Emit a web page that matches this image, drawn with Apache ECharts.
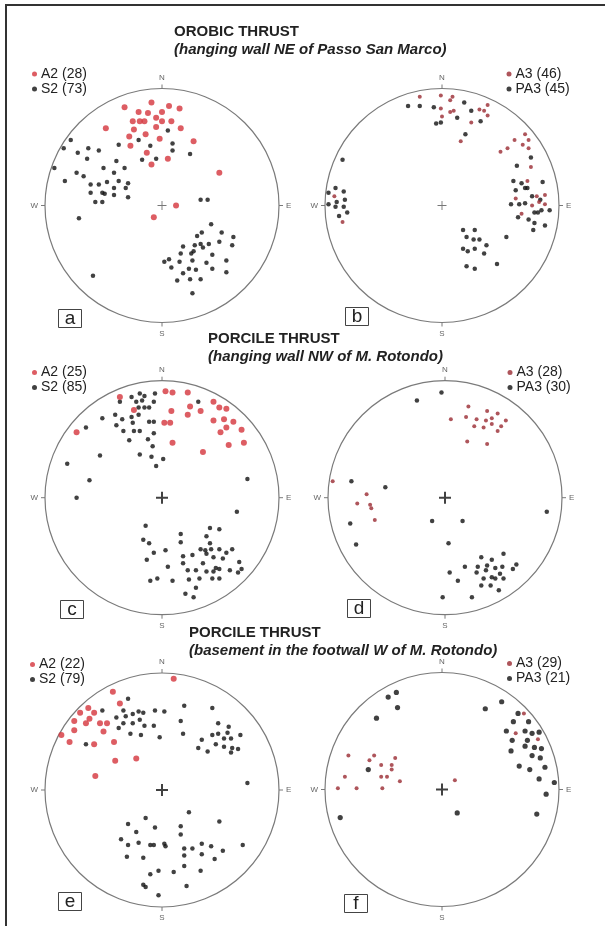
<!DOCTYPE html>
<html>
<head>
<meta charset="utf-8">
<script src="https://cdn.jsdelivr.net/npm/echarts@6/dist/echarts.min.js"></script>
<style>
  html, body { margin: 0; padding: 0; background: #fff; }
  #chart { width: 605px; height: 926px; }
</style>
</head>
<body>
<div id="chart"></div>
<script>
// Pole data on equal-area nets: [east, north] in percent of the net radius.

// Orobic thrust, hanging wall NE of Passo San Marco
const a_A2 = [[-32,84],[-9,88],[6,85],[15,83],[-20,80],[-12,79],[-5,75],[0,80],[-25,72],[-19,72],[-15,72],[0,72],[8,72],[-5,67],[16,66],[-48,66],[-24,65],[-14,61],[-28,59],[-2,57],[-27,51],[27,55],[-13,45],[5,40],[-9,35],[49,28],[12,0],[-7,-10]];
const a_S2 = [[-78,56],[-84,49],[-72,45],[-63,49],[-54,47],[-37,52],[-64,40],[-39,38],[-92,32],[-73,28],[-67,25],[-50,32],[-41,28],[-32,32],[-83,21],[-61,18],[-54,18],[-47,20],[-37,21],[-29,19],[-41,15],[-31,15],[-61,11],[-51,11],[-49,10],[-41,9],[-29,7],[-57,3],[-51,3],[-71,-11],[-59,-60],
  [5,64],[-20,56],[9,53],[-10,51],[9,47],[24,44],[-17,39],[-5,40],
  [33,5],[39,5],
  [42,-16],[34,-23],[51,-23],[30,-26],[61,-27],[18,-35],[28,-34],[33,-33],[35,-36],[40,-33],[49,-31],[60,-34],[25,-41],[27,-39],[16,-41],[43,-42],[2,-48],[6,-46],[15,-48],[26,-47],[38,-49],[55,-47],[8,-53],[23,-54],[29,-55],[43,-54],[55,-57],[18,-58],[13,-64],[24,-63],[33,-63],[26,-75]];
const b_A3 = [[-19,93],[-1,94],[9,93],[7,90],[-1,83],[0,76],[7,80],[10,81],[32,82],[36,81],[39,86],[39,77],[25,71],[16,55],
  [71,61],[62,56],[74,56],[69,52],[74,49],[56,49],[50,46],[76,33],[73,21],[63,6],[81,8],[88,9],[77,0],[88,1],[68,-7],[83,3],
  [-92,8],[-85,-14]];
const b_PA3 = [[-29,85],[-19,85],[-7,84],[19,88],[13,75],[25,81],[-5,70],[-1,71],[33,72],[20,61],
  [76,41],[64,34],[61,21],[68,19],[71,15],[73,15],[86,20],[63,13],[77,8],[59,1],[66,1],[71,2],[84,5],[79,-6],[82,-6],[85,-4],[92,-4],[65,-10],[74,-12],[79,-15],[78,-21],[88,-17],[55,-27],
  [18,-21],[28,-21],[21,-27],[27,-29],[32,-29],[18,-37],[22,-39],[28,-37],[38,-34],[36,-41],[21,-52],[28,-54],[47,-50],
  [-85,39],[-91,15],[-97,11],[-84,12],[-90,3],[-83,5],[-97,1],[-91,-1],[-84,-1],[-81,-6],[-88,-9]];

// Porcile thrust, hanging wall NW of M. Rotondo
const c_A2 = [[-36,86],[3,91],[9,90],[22,90],[-24,75],[8,74],[24,78],[33,74],[44,82],[49,77],[55,76],[22,71],[2,64],[7,64],[44,66],[53,67],[61,65],[55,60],[50,56],[68,58],[-73,56],[9,47],[35,39],[57,45],[70,47]];
const c_S2 = [[-36,82],[-26,86],[-19,89],[-15,87],[-6,89],[-22,82],[-17,83],[-7,82],[-20,77],[-15,77],[-11,77],[-40,71],[-51,68],[-65,60],[-34,67],[-26,69],[-20,71],[-11,65],[-7,65],[-39,62],[-25,64],[-33,57],[-24,57],[-19,57],[-7,55],[-28,49],[-12,50],[-8,44],[-19,37],[-9,35],[1,33],[-5,27],[31,82],[-53,36],[-81,29],[-62,15],[-73,0],[73,16],[64,-12],
  [-14,-24],[16,-31],[41,-26],[49,-27],[38,-33],[-16,-36],[-11,-39],[16,-38],[41,-39],[33,-44],[37,-45],[38,-48],[42,-44],[49,-44],[55,-47],[60,-44],[-7,-47],[3,-45],[18,-50],[26,-49],[44,-51],[52,-52],[-13,-53],[66,-55],[18,-56],[35,-56],[46,-60],[49,-61],[5,-59],[22,-62],[29,-62],[38,-63],[44,-63],[58,-62],[65,-64],[68,-61],[-10,-71],[-4,-69],[9,-71],[23,-70],[32,-69],[43,-69],[49,-69],[29,-77],[20,-82],[27,-85]];
const d_A3 = [[20,78],[36,74],[45,72],[5,67],[18,69],[27,67],[35,66],[40,68],[52,66],[25,61],[33,60],[40,63],[48,61],[45,57],[19,48],[36,46],
  [-96,14],[-67,3],[-75,-5],[-64,-6],[-63,-9],[-60,-19]];
const d_PA3 = [[-3,90],[-24,83],[-80,14],[-51,9],[-81,-22],[-76,-40],[-11,-20],[15,-20],[87,-12],[3,-39],
  [31,-51],[40,-53],[50,-48],[28,-59],[36,-58],[43,-60],[49,-59],[61,-57],[58,-61],[17,-59],[27,-64],[35,-62],[40,-68],[33,-69],[43,-69],[47,-65],[50,-69],[4,-64],[11,-71],[31,-75],[39,-75],[46,-79],[-2,-85],[23,-85]];

// Porcile thrust, basement in the footwall W of M. Rotondo
const e_A2 = [[10,95],[-42,84],[-36,74],[-70,66],[-63,70],[-58,66],[-75,59],[-65,57],[-62,61],[-53,57],[-47,57],[-75,51],[-50,50],[-86,47],[-79,41],[-58,39],[-41,41],[-40,25],[-22,27],[-57,12]];
const e_S2 = [[-29,78],[-51,68],[-33,68],[-25,65],[-20,67],[-16,66],[-6,68],[2,67],[19,72],[-39,62],[-31,63],[-37,53],[-33,57],[-25,57],[-19,60],[-15,55],[-7,55],[-27,48],[-18,47],[-2,45],[16,59],[18,48],[-65,39],
  [43,70],[48,57],[57,54],[43,47],[48,48],[53,44],[56,49],[59,44],[67,47],[34,43],[31,36],[39,33],[46,39],[53,37],[60,36],[65,35],[59,32],
  [73,6],
  [-14,-24],[23,-19],[-29,-29],[-6,-32],[16,-31],[49,-27],[-22,-36],[16,-38],[-35,-42],[-29,-47],[-20,-45],[-10,-47],[-7,-47],[2,-46],[3,-48],[19,-50],[26,-50],[34,-46],[42,-48],[52,-52],[69,-47],[-30,-57],[-16,-58],[19,-56],[34,-55],[45,-59],[19,-65],[-3,-69],[-10,-72],[10,-70],[33,-69],[-16,-81],[-14,-83],[21,-82],[-3,-90]];
const f_A3 = [[-80,29],[-58,29],[-62,25],[-52,21],[-40,27],[-43,21],[-43,17],[-83,11],[-52,11],[-47,11],[-36,7],[-89,1],[-73,1],[-51,1],[11,8],[70,65],[63,48],[82,43]];
const f_PA3 = [[-46,79],[-39,83],[-38,70],[-56,61],[37,69],[51,75],[65,65],[74,58],[61,58],[55,50],[71,50],[77,48],[83,49],[60,42],[73,42],[71,37],[79,36],[85,35],[59,33],[77,29],[84,27],[66,20],[75,17],[88,19],[83,9],[96,6],[89,-4],[81,-21],[13,-20],[-87,-24],[-63,17]];

// Compass labels on the primitive circle
const compass = { 0: 'N', 90: 'E', 180: 'S', 270: 'W' };

const RED_A2 = '#d5353c';
const RED_A3 = '#9a2a32';
const BLACK = '#111111';

const nets = [
  { center: [162, 205.5], bold: false, letter: 'a', box: [58, 309],
    legend: { left: 32, top: 66.5 },
    sets: [ ['S2 (73)', a_S2, BLACK, 4.5], ['A2 (28)', a_A2, RED_A2, 6] ], order: ['A2 (28)', 'S2 (73)'] },
  { center: [442, 205.5], bold: false, letter: 'b', box: [345, 307],
    legend: { left: 506.5, top: 66.5 },
    sets: [ ['PA3 (45)', b_PA3, BLACK, 4.5], ['A3 (46)', b_A3, RED_A3, 4] ], order: ['A3 (46)', 'PA3 (45)'] },
  { center: [162, 497.7], bold: true, letter: 'c', box: [60, 600],
    legend: { left: 32, top: 365 },
    sets: [ ['S2 (85)', c_S2, BLACK, 4.5], ['A2 (25)', c_A2, RED_A2, 6] ], order: ['A2 (25)', 'S2 (85)'] },
  { center: [445, 497.7], bold: true, letter: 'd', box: [347, 599],
    legend: { left: 507.5, top: 365 },
    sets: [ ['PA3 (30)', d_PA3, BLACK, 4.5], ['A3 (28)', d_A3, RED_A3, 4] ], order: ['A3 (28)', 'PA3 (30)'] },
  { center: [162, 790], bold: true, letter: 'e', box: [58, 892],
    legend: { left: 30, top: 657 },
    sets: [ ['S2 (79)', e_S2, BLACK, 4.5], ['A2 (22)', e_A2, RED_A2, 6] ], order: ['A2 (22)', 'S2 (79)'] },
  { center: [442, 789.5], bold: true, letter: 'f', box: [344, 894],
    legend: { left: 507, top: 656 },
    sets: [ ['PA3 (21)', f_PA3, BLACK, 5.2], ['A3 (29)', f_A3, RED_A3, 4] ], order: ['A3 (29)', 'PA3 (21)'] }
];

const NET_RADIUS = 117;

// [east, north] -> [radius, azimuth] for the polar system
function toPolar(pts) {
  return pts.map(([e, n]) => {
    const r = Math.hypot(e, n);
    let az = Math.atan2(e, n) * 180 / Math.PI;
    if (az < 0) az += 360;
    return [r, az];
  });
}

const thinCross = 'path://M-0.5,-5L0.5,-5L0.5,5L-0.5,5Z M-5,-0.5L5,-0.5L5,0.5L-5,0.5Z';
const boldCross = 'path://M-1,-6L1,-6L1,6L-1,6Z M-6,-1L6,-1L6,1L-6,1Z';

const polar = [], angleAxis = [], radiusAxis = [], series = [], legend = [];
const graphic = [];

nets.forEach((net, i) => {
  polar.push({ center: net.center, radius: NET_RADIUS });
  angleAxis.push({
    polarIndex: i, type: 'value', min: 0, max: 360, interval: 90,
    startAngle: 90, clockwise: true,
    axisLine: { lineStyle: { color: '#7a7a7a', width: 1.2 } },
    axisTick: { show: true, length: 4, lineStyle: { color: '#7a7a7a', width: 1 } },
    axisLabel: { margin: 7, fontSize: 8, color: '#666', fontFamily: 'Liberation Sans',
                 formatter: v => compass[v] || '' },
    splitLine: { show: false }, splitArea: { show: false }
  });
  radiusAxis.push({
    polarIndex: i, type: 'value', min: 0, max: 100,
    axisLine: { show: false }, axisTick: { show: false },
    axisLabel: { show: false }, splitLine: { show: false }
  });
  net.sets.forEach(([name, pts, color, size]) => {
    series.push({
      name, type: 'scatter', coordinateSystem: 'polar', polarIndex: i,
      symbol: 'circle', symbolSize: size,
      itemStyle: { color },
      data: toPolar(pts),
      silent: true
    });
  });
  // centre of the net
  series.push({
    type: 'scatter', coordinateSystem: 'polar', polarIndex: i,
    symbol: net.bold ? boldCross : thinCross,
    symbolSize: net.bold ? 12 : 9,
    itemStyle: { color: net.bold ? '#111' : '#555' },
    data: [[0, 0]], silent: true
  });
  legend.push({
    orient: 'vertical', left: net.legend.left, top: net.legend.top,
    padding: 0, itemGap: 0, itemWidth: 5, itemHeight: 5, icon: 'circle',
    selectedMode: false,
    textStyle: { fontSize: 14, lineHeight: 15, color: '#222', fontFamily: 'Liberation Sans', padding: [0, 0, 0, -1] },
    data: net.order
  });
  // panel letter box
  graphic.push({
    type: 'group', left: net.box[0], top: net.box[1],
    children: [
      { type: 'rect', shape: { x: 0, y: 0, width: 23, height: 18 },
        style: { fill: '#fff', stroke: '#444', lineWidth: 1 } },
      { type: 'text', x: 11.5, y: 9,
        style: { text: net.letter, fontSize: 19, fontFamily: 'Liberation Sans',
                 fill: '#222', textAlign: 'center', textVerticalAlign: 'middle' } }
    ]
  });
});

// Row headings
const headings = [
  { x: 174, y: 32, title: 'OROBIC THRUST', sub: '(hanging wall NE of Passo San Marco)' },
  { x: 208, y: 339, title: 'PORCILE THRUST', sub: '(hanging wall NW of M. Rotondo)' },
  { x: 189, y: 633, title: 'PORCILE THRUST', sub: '(basement in the footwall W of M. Rotondo)' }
];
headings.forEach(h => {
  graphic.push({ type: 'text', x: h.x, y: h.y,
    style: { text: h.title, fontSize: 15, fontWeight: 'bold', fontFamily: 'Liberation Sans',
             fill: '#222', textVerticalAlign: 'middle' } });
  graphic.push({ type: 'text', x: h.x, y: h.y + 18,
    style: { text: h.sub, fontSize: 15, fontWeight: 'bold', fontStyle: 'italic', fontFamily: 'Liberation Sans',
             fill: '#222', textVerticalAlign: 'middle' } });
});

// Figure frame (top and left edges)
graphic.push({ type: 'line', shape: { x1: 5, y1: 5, x2: 605, y2: 5 }, style: { stroke: '#333', lineWidth: 2 } });
graphic.push({ type: 'line', shape: { x1: 6, y1: 5, x2: 6, y2: 926 }, style: { stroke: '#333', lineWidth: 2 } });

const chart = echarts.init(document.getElementById('chart'), null, { renderer: 'canvas' });
chart.setOption({
  backgroundColor: '#ffffff',
  animation: false,
  polar, angleAxis, radiusAxis, series, legend, graphic
});
</script>
</body>
</html>
